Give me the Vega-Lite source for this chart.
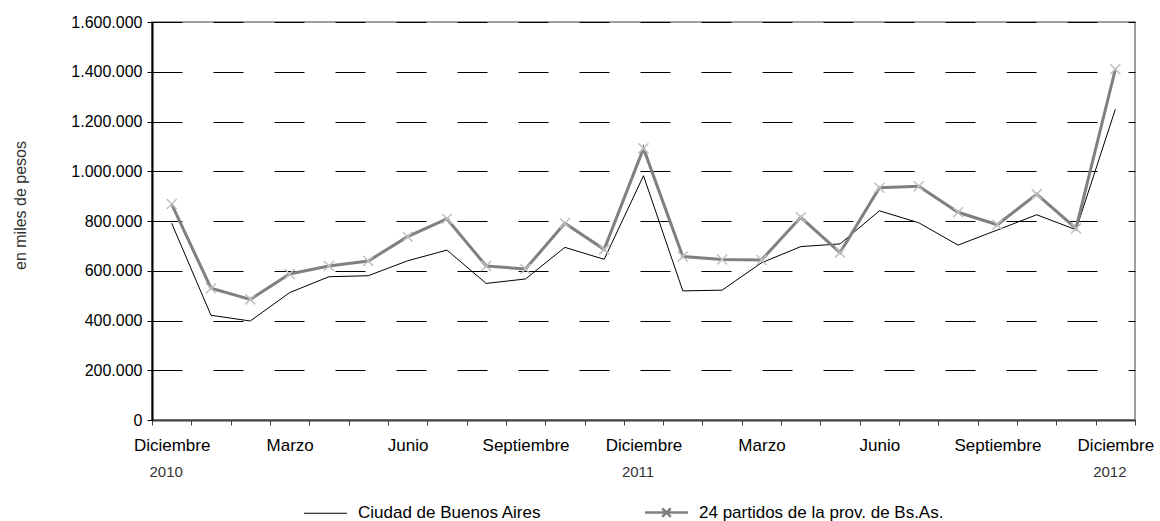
{
  "$schema": "https://vega.github.io/schema/vega-lite/v6.json",
  "width": 983,
  "height": 398,
  "autosize": "none",
  "padding": {"left": 152, "top": 22, "right": 25, "bottom": 101},
  "config": {
    "font": "Liberation Sans",
    "view": {"stroke": "#808080", "strokeWidth": 1.5},
    "axis": {"labelFont": "Liberation Sans", "titleFont": "Liberation Sans"},
    "legend": {"labelFont": "Liberation Sans"}
  },
  "data": {
    "values": [
      {"i": 0, "mes": "2010-12", "serie": "Ciudad de Buenos Aires", "valor": 791000},
      {"i": 1, "mes": "2011-01", "serie": "Ciudad de Buenos Aires", "valor": 421000},
      {"i": 2, "mes": "2011-02", "serie": "Ciudad de Buenos Aires", "valor": 398000},
      {"i": 3, "mes": "2011-03", "serie": "Ciudad de Buenos Aires", "valor": 512000},
      {"i": 4, "mes": "2011-04", "serie": "Ciudad de Buenos Aires", "valor": 576000},
      {"i": 5, "mes": "2011-05", "serie": "Ciudad de Buenos Aires", "valor": 580000},
      {"i": 6, "mes": "2011-06", "serie": "Ciudad de Buenos Aires", "valor": 640000},
      {"i": 7, "mes": "2011-07", "serie": "Ciudad de Buenos Aires", "valor": 683000},
      {"i": 8, "mes": "2011-08", "serie": "Ciudad de Buenos Aires", "valor": 549000},
      {"i": 9, "mes": "2011-09", "serie": "Ciudad de Buenos Aires", "valor": 567000},
      {"i": 10, "mes": "2011-10", "serie": "Ciudad de Buenos Aires", "valor": 694000},
      {"i": 11, "mes": "2011-11", "serie": "Ciudad de Buenos Aires", "valor": 646000},
      {"i": 12, "mes": "2011-12", "serie": "Ciudad de Buenos Aires", "valor": 982000},
      {"i": 13, "mes": "2012-01", "serie": "Ciudad de Buenos Aires", "valor": 519000},
      {"i": 14, "mes": "2012-02", "serie": "Ciudad de Buenos Aires", "valor": 522000},
      {"i": 15, "mes": "2012-03", "serie": "Ciudad de Buenos Aires", "valor": 632000},
      {"i": 16, "mes": "2012-04", "serie": "Ciudad de Buenos Aires", "valor": 697000},
      {"i": 17, "mes": "2012-05", "serie": "Ciudad de Buenos Aires", "valor": 708000},
      {"i": 18, "mes": "2012-06", "serie": "Ciudad de Buenos Aires", "valor": 841000},
      {"i": 19, "mes": "2012-07", "serie": "Ciudad de Buenos Aires", "valor": 793000},
      {"i": 20, "mes": "2012-08", "serie": "Ciudad de Buenos Aires", "valor": 703000},
      {"i": 21, "mes": "2012-09", "serie": "Ciudad de Buenos Aires", "valor": 764000},
      {"i": 22, "mes": "2012-10", "serie": "Ciudad de Buenos Aires", "valor": 825000},
      {"i": 23, "mes": "2012-11", "serie": "Ciudad de Buenos Aires", "valor": 765000},
      {"i": 24, "mes": "2012-12", "serie": "Ciudad de Buenos Aires", "valor": 1249000},
      {"i": 0, "mes": "2010-12", "serie": "24 partidos de la prov. de Bs.As.", "valor": 868000},
      {"i": 1, "mes": "2011-01", "serie": "24 partidos de la prov. de Bs.As.", "valor": 530000},
      {"i": 2, "mes": "2011-02", "serie": "24 partidos de la prov. de Bs.As.", "valor": 485000},
      {"i": 3, "mes": "2011-03", "serie": "24 partidos de la prov. de Bs.As.", "valor": 587000},
      {"i": 4, "mes": "2011-04", "serie": "24 partidos de la prov. de Bs.As.", "valor": 619000},
      {"i": 5, "mes": "2011-05", "serie": "24 partidos de la prov. de Bs.As.", "valor": 639000},
      {"i": 6, "mes": "2011-06", "serie": "24 partidos de la prov. de Bs.As.", "valor": 737000},
      {"i": 7, "mes": "2011-07", "serie": "24 partidos de la prov. de Bs.As.", "valor": 809000},
      {"i": 8, "mes": "2011-08", "serie": "24 partidos de la prov. de Bs.As.", "valor": 619000},
      {"i": 9, "mes": "2011-09", "serie": "24 partidos de la prov. de Bs.As.", "valor": 607000},
      {"i": 10, "mes": "2011-10", "serie": "24 partidos de la prov. de Bs.As.", "valor": 791000},
      {"i": 11, "mes": "2011-11", "serie": "24 partidos de la prov. de Bs.As.", "valor": 686000},
      {"i": 12, "mes": "2011-12", "serie": "24 partidos de la prov. de Bs.As.", "valor": 1092000},
      {"i": 13, "mes": "2012-01", "serie": "24 partidos de la prov. de Bs.As.", "valor": 657000},
      {"i": 14, "mes": "2012-02", "serie": "24 partidos de la prov. de Bs.As.", "valor": 645000},
      {"i": 15, "mes": "2012-03", "serie": "24 partidos de la prov. de Bs.As.", "valor": 643000},
      {"i": 16, "mes": "2012-04", "serie": "24 partidos de la prov. de Bs.As.", "valor": 815000},
      {"i": 17, "mes": "2012-05", "serie": "24 partidos de la prov. de Bs.As.", "valor": 673000},
      {"i": 18, "mes": "2012-06", "serie": "24 partidos de la prov. de Bs.As.", "valor": 934000},
      {"i": 19, "mes": "2012-07", "serie": "24 partidos de la prov. de Bs.As.", "valor": 940000},
      {"i": 20, "mes": "2012-08", "serie": "24 partidos de la prov. de Bs.As.", "valor": 835000},
      {"i": 21, "mes": "2012-09", "serie": "24 partidos de la prov. de Bs.As.", "valor": 785000},
      {"i": 22, "mes": "2012-10", "serie": "24 partidos de la prov. de Bs.As.", "valor": 908000},
      {"i": 23, "mes": "2012-11", "serie": "24 partidos de la prov. de Bs.As.", "valor": 770000},
      {"i": 24, "mes": "2012-12", "serie": "24 partidos de la prov. de Bs.As.", "valor": 1410000}
    ]
  },
  "layer": [
    {
      "mark": {"type": "line", "strokeJoin": "miter"},
      "encoding": {
        "x": {
          "field": "i",
          "type": "quantitative",
          "scale": {"domain": [-0.5, 24.5], "nice": false, "zero": false},
          "axis": {
            "title": null,
            "grid": false,
            "values": [-0.5, 0, 0.5, 1, 1.5, 2, 2.5, 3, 3.5, 4, 4.5, 5, 5.5, 6, 6.5, 7, 7.5, 8, 8.5, 9, 9.5, 10, 10.5, 11, 11.5, 12, 12.5, 13, 13.5, 14, 14.5, 15, 15.5, 16, 16.5, 17, 17.5, 18, 18.5, 19, 19.5, 20, 20.5, 21, 21.5, 22, 22.5, 23, 23.5, 24, 24.5],
            "labelExpr": "datum.value % 3 === 0 ? ['Diciembre', 'Marzo', 'Junio', 'Septiembre'][(datum.value / 3) % 4] : ''",
            "domainColor": "#404040",
            "domainWidth": 2,
            "tickColor": "#404040",
            "tickWidth": 1,
            "tickSize": 5,
            "tickOpacity": {"condition": {"test": "datum.value % 1 === 0", "value": 0}, "value": 1},
            "labelPadding": 12,
            "labelFontSize": 17,
            "labelColor": "black",
            "labelFlush": false,
            "labelOverlap": false,
            "labelBound": false
          }
        },
        "y": {
          "field": "valor",
          "type": "quantitative",
          "scale": {"domain": [0, 1600000], "nice": false},
          "axis": {
            "title": "en miles de pesos",
            "titleFontSize": 16,
            "titleFontWeight": "normal",
            "titleColor": "#333333",
            "titleX": -132,
            "titleY": 183,
            "titleBaseline": "middle",
            "values": [0, 200000, 400000, 600000, 800000, 1000000, 1200000, 1400000, 1600000],
            "labelExpr": "replace(format(datum.value, ','), regexp(',', 'g'), '.')",
            "grid": true,
            "gridColor": "black",
            "gridDash": [30, 31],
            "gridWidth": 1,
            "domainColor": "black",
            "domainWidth": 2,
            "tickColor": "black",
            "tickSize": 5,
            "labelPadding": 5,
            "labelFontSize": 16,
            "labelColor": "black"
          }
        },
        "color": {
          "field": "serie",
          "type": "nominal",
          "scale": {"domain": ["Ciudad de Buenos Aires", "24 partidos de la prov. de Bs.As."], "range": ["#000000", "#808080"]},
          "legend": {
            "title": null,
            "orient": "none",
            "legendX": 165,
            "legendY": 482,
            "direction": "horizontal",
            "symbolType": "stroke",
            "symbolSize": 1849,
            "symbolStrokeWidth": 1,
            "labelFontSize": 17,
            "labelColor": "black",
            "labelLimit": 0,
            "labelOffset": 24,
            "columnPadding": 98,
            "encode": {
              "symbols": {
                "update": {
                  "shape": {"signal": "datum.value === '24 partidos de la prov. de Bs.As.' ? 'M-1,0H1M-0.2,-0.2L0.2,0.2M-0.2,0.2L0.2,-0.2' : 'stroke'"},
                  "strokeWidth": {"signal": "datum.value === 'Ciudad de Buenos Aires' ? 1 : 2.5"}
                }
              }
            }
          }
        },
        "strokeWidth": {"condition": {"test": "datum.serie === 'Ciudad de Buenos Aires'", "value": 1}, "value": 3}
      }
    },
    {
      "transform": [{"filter": "datum.serie === '24 partidos de la prov. de Bs.As.'"}],
      "mark": {"type": "point", "shape": "M-1,-1L1,1M-1,1L1,-1", "filled": false, "stroke": "#c0c0c0", "strokeWidth": 1.5, "size": 100, "opacity": 1},
      "encoding": {
        "x": {
          "field": "i",
          "type": "quantitative",
          "scale": {"domain": [-0.5, 24.5], "nice": false, "zero": false},
          "axis": {
            "orient": "bottom",
            "title": null,
            "grid": false,
            "domain": false,
            "ticks": false,
            "tickSize": 0,
            "values": [0, 12, 24],
            "labelExpr": "datum.value === 0 ? '2010' : datum.value === 12 ? '2011' : '2012'",
            "labelPadding": 44,
            "labelOffset": -6,
            "labelFontSize": 15,
            "labelColor": "#333333",
            "labelFlush": false,
            "labelOverlap": false,
            "labelBound": false
          }
        },
        "y": {"field": "valor", "type": "quantitative"}
      }
    }
  ],
  "resolve": {"axis": {"x": "independent"}}
}
